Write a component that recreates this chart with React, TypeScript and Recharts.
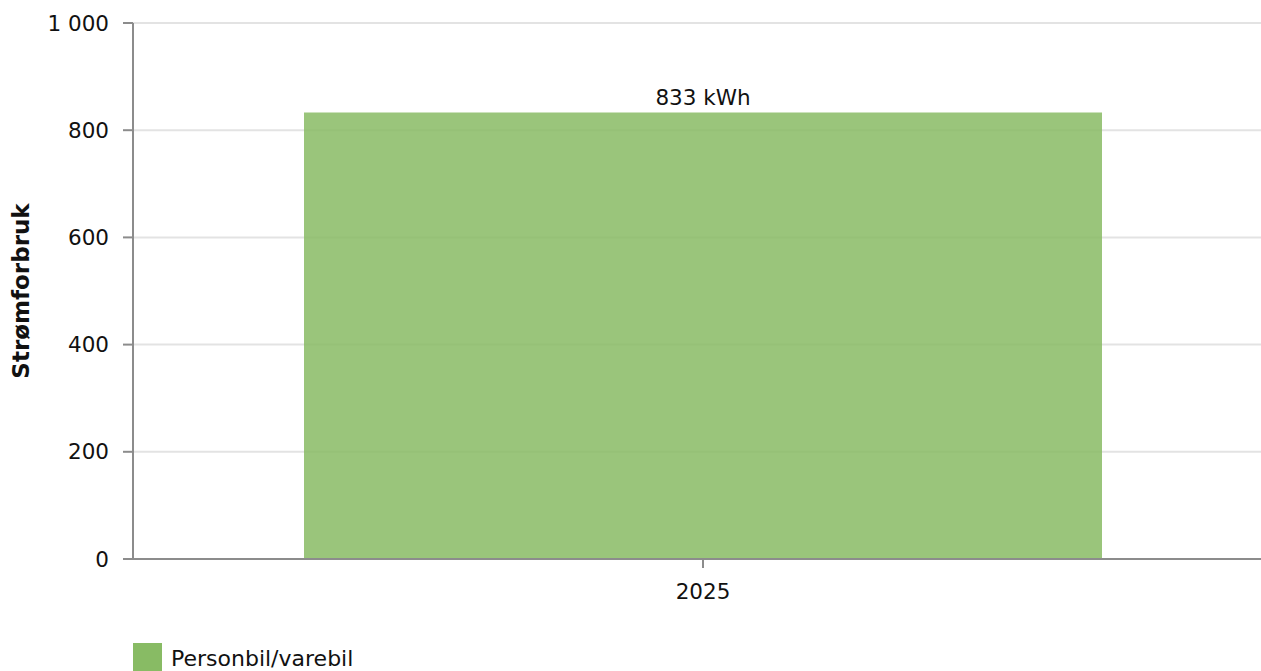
import React from "react";
import {
  BarChart,
  Bar,
  XAxis,
  YAxis,
  CartesianGrid,
  LabelList,
  Label,
} from "recharts";

const years = ["2025"];
const consumption = [833];
const yTicks = [0, 200, 400, 600, 800, 1000];
const seriesName = "Personbil/varebil";
const yAxisTitle = "Strømforbruk";

const data = years.map((year, i) => ({ year, value: consumption[i] }));

const FONT = "'DejaVu Sans', Verdana, sans-serif";
const AXIS = "#8c8c8c";
const FS = 21.5;

const formatTick = (v: number) =>
  String(v).replace(/\B(?=(\d{3})+(?!\d))/g, " ");

export default function App() {
  return (
    <div
      style={{
        position: "fixed",
        left: 0,
        top: 0,
        width: 1261,
        height: 671,
        overflow: "hidden",
        background: "#fff",
        fontFamily: FONT,
      }}
    >
      <BarChart
        width={1273}
        height={671}
        data={data}
        margin={{ top: 23, right: 0, bottom: 62, left: 0 }}
        barCategoryGap="15%"
      >
        <CartesianGrid
          vertical={false}
          stroke="#e3e3e3"
          strokeWidth={2}
        />
        <XAxis
          dataKey="year"
          height={50}
          stroke={AXIS}
          strokeWidth={2}
          tickSize={9}
          tickMargin={16}
          tick={{ fill: "#111", fontSize: FS, fontFamily: FONT }}
        />
        <YAxis
          domain={[0, 1000]}
          ticks={yTicks}
          width={133}
          stroke={AXIS}
          strokeWidth={2}
          tickSize={10}
          tickMargin={14}
          tickFormatter={formatTick}
          tick={{ fill: "#111", fontSize: FS, fontFamily: FONT }}
        >
          <Label
            content={({ viewBox }: any) => {
              const cy = viewBox.y + viewBox.height / 2;
              return (
                <text
                  x={21}
                  y={cy}
                  transform={`rotate(-90, 21, ${cy})`}
                  textAnchor="middle"
                  dominantBaseline="central"
                  fontFamily={FONT}
                  fontSize={23}
                  fontWeight="bold"
                  fill="#111"
                >
                  {yAxisTitle}
                </text>
              );
            }}
          />
        </YAxis>
        <Bar
          dataKey="value"
          name={seriesName}
          fill="#88bb64"
          fillOpacity={0.85}
          isAnimationActive={false}
        >
          <LabelList
            dataKey="value"
            position="top"
            offset={8}
            formatter={(v: any) => `${v} kWh`}
            style={{ fill: "#111", fontSize: FS, fontFamily: FONT }}
          />
        </Bar>
      </BarChart>
      <div
        style={{
          position: "absolute",
          left: 133,
          top: 643,
          display: "flex",
          alignItems: "flex-start",
          fontSize: 22,
          color: "#111",
        }}
      >
        <span
          style={{
            display: "inline-block",
            width: 29,
            height: 29,
            background: "#88bb64",
            marginRight: 9,
          }}
        />
        <span style={{ lineHeight: "40px", marginTop: -4 }}>{seriesName}</span>
      </div>
    </div>
  );
}
